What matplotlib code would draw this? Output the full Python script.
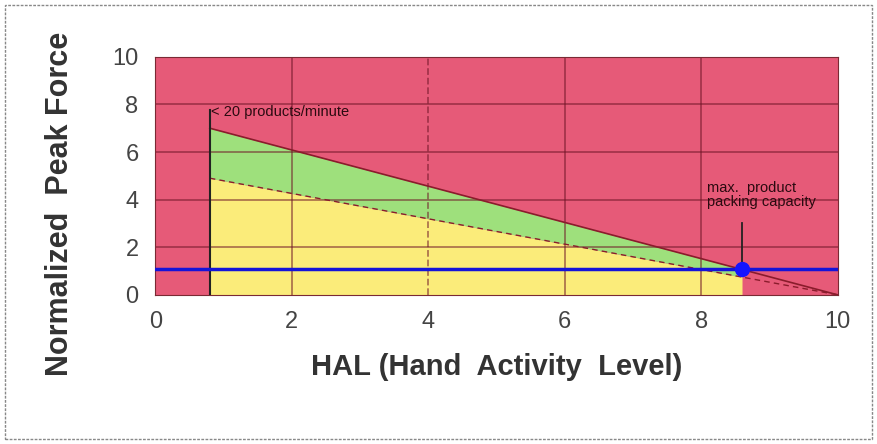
#!/usr/bin/env python

import numpy as np
import matplotlib
matplotlib.use('Agg')
import matplotlib.pyplot as plt
from matplotlib.patches import Rectangle

# values
tlv_hal = [0.8, 10.0]          # upper (TLV) line
tlv_force = [7.0, 0.0]
al_hal = [0.8, 10.0]           # dashed (action limit) line
al_force = [4.9, 0.0]
rate_hal = 0.8                 # < 20 products/minute
rate_top = 7.75
capacity_hal = 8.6             # max. product packing capacity
capacity_force = 1.1
capacity_top = 3.0
x_ticks = [0, 2, 4, 6, 8, 10]
y_ticks = [0, 2, 4, 6, 8, 10]

plt.rcParams['font.family'] = ['Liberation Sans Narrow', 'Liberation Sans', 'DejaVu Sans']

fig = plt.figure(figsize=(8.77, 4.44), dpi=100)
ax = fig.add_axes([0.177, 0.336, 0.778, 0.536])

red = '#e65a78'
green = '#9ee07c'
yellow = '#fbec7a'

ax.set_facecolor(red)
xs = np.linspace(rate_hal, capacity_hal, 50)
top = np.interp(xs, tlv_hal, tlv_force)
mid = np.interp(xs, al_hal, al_force)
ax.fill_between(xs, 0, mid, color=yellow, lw=0, zorder=1)
ax.fill_between(xs, mid, top, color=green, lw=0, zorder=1)

# grid over fills
for v in x_ticks[1:-1]:
    ax.axvline(v, color='#6e1426', alpha=0.55, lw=1.3,
               ls='--' if v == 4 else '-', zorder=2)
for v in y_ticks[1:-1]:
    ax.axhline(v, color='#6e1426', alpha=0.55, lw=1.3, zorder=2)

ax.plot(tlv_hal, tlv_force, color='#8a1c2c', lw=1.2, zorder=3)
ax.plot(al_hal, al_force, color='#8a1c2c', lw=1.0, ls=(0, (4, 3)), zorder=3)

ax.plot([rate_hal, rate_hal], [0, rate_top], color='#222222', lw=1.5, zorder=4)
ax.text(rate_hal + 0.02, rate_top - 0.05, '< 20 products/minute', fontsize=10.5,
        color='#2a0a10', va='center', ha='left', family=['Liberation Sans', 'DejaVu Sans'])

ax.axhline(capacity_force, color='#1414d8', lw=2.5, zorder=5)
ax.plot([capacity_hal, capacity_hal], [capacity_force, capacity_top],
        color='#222222', lw=1.3, zorder=5)
ax.plot([capacity_hal], [capacity_force], 'o', color='#1414ff', ms=10, zorder=6)
ax.text(8.08, 3.6, 'max.  product\npacking capacity', fontsize=10.5,
        color='#2a0a10', va='bottom', ha='left', linespacing=1.0,
        family=['Liberation Sans', 'DejaVu Sans'])

ax.set_xlim(0, 10)
ax.set_ylim(0, 10)
ax.set_xticks(x_ticks)
ax.set_yticks(y_ticks)
ax.tick_params(length=0, labelsize=17, colors='#444444', pad=12)
for s in ax.spines.values():
    s.set_color('#7a2a34')
    s.set_linewidth(0.8)

ax.set_xlabel('HAL (Hand  Activity  Level)', fontsize=21, fontweight='bold',
              color='#333333', labelpad=14)
fig.text(0.068, 0.54, 'Normalized  Peak Force', rotation=90, fontsize=22,
         fontweight='bold', color='#333333', ha='center', va='center')

fig.patches.append(Rectangle((0.006, 0.012), 0.988, 0.976, transform=fig.transFigure,
                             fill=False, ec='#888888', lw=1.0, ls=(0, (2, 1))))

fig.savefig('out.png', dpi=100)
